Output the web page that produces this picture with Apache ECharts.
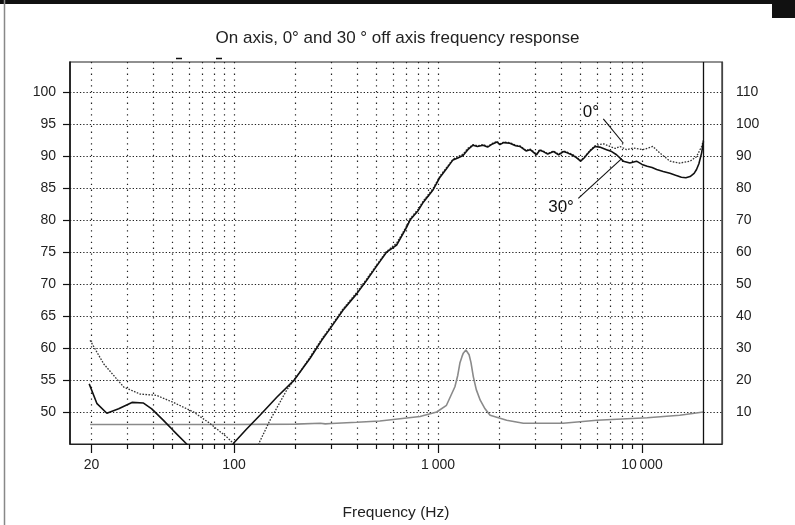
<!DOCTYPE html>
<html>
<head>
<meta charset="utf-8">
<script src="https://cdn.jsdelivr.net/npm/echarts@6/dist/echarts.min.js"></script>
<style>
html,body{margin:0;padding:0;background:#fff;}
#c{width:795px;height:525px;}
</style>
</head>
<body>
<div id="c"></div>
<script>
// ---- data ----
const titleText = 'On axis, 0\u00b0 and 30 \u00b0 off axis frequency response';
const xName = 'Frequency (Hz)';
const xMajorFreqs = [20, 100, 1000, 10000];
const xMajorLabels = ['20', '100', '1\u2009000', '10\u2009000'];
const xMinorFreqs = [30,40,50,60,70,80,90,200,300,400,500,600,700,800,900,2000,3000,4000,5000,6000,7000,8000,9000];
const leftTicks = [50,55,60,65,70,75,80,85,90,95,100];
const rightTicks = [10,20,30,40,50,60,70,80,90,100,110];
const markerFreq = 20000;

// 30 deg off axis (solid)
const f30 = [19.5,21.3,23.8,27.2,31.6,36,39.5,45.1,50.4,58.6,75,100,115,134,162,196,236,269,300,342,400,447,500,560,627,700,729,800,847,945,1023,1100,1184,1250,1326,1400,1484,1560,1662,1750,1850,1946,2010,2100,2250,2400,2520,2700,2830,3040,3150,3280,3450,3680,3900,4120,4300,4520,4750,5000,5200,5360,5600,5890,6200,6700,7100,7500,8100,8720,9400,10000,10600,11200,11800,12700,13700,14600,15600,16400,17200,18000,18500,19000,19600,20000];
const db30 = [54.4,51.3,49.8,50.5,51.5,51.4,50.5,48.7,47.1,45.0,38,45.2,47.3,49.5,52.3,54.9,58.4,61.2,63.3,65.9,68.5,70.6,72.8,75.0,76.1,78.8,80.0,81.5,82.8,84.7,86.7,88.0,89.4,89.7,90.1,91.0,91.7,91.5,91.7,91.4,91.9,92.2,91.8,92.1,92.0,91.6,91.5,90.8,91.0,90.2,90.9,90.7,90.3,90.7,90.2,90.7,90.5,90.2,89.8,89.2,89.7,90.2,90.9,91.5,91.4,91.0,90.7,90.2,89.2,88.9,89.2,88.7,88.4,88.2,87.9,87.6,87.3,87.0,86.7,86.6,86.8,87.3,87.9,88.8,90.5,92.3];

// 0 deg on axis (dotted)
const f0 = [19.7,23,28.8,34.7,41.7,50.4,63.4,76.3,92.1,100,112,132,150,181,211,236,269,300,342,400,447,500,560,627,700,729,800,847,945,1023,1100,1184,1250,1326,1400,1484,1560,1662,1750,1850,1946,2010,2100,2250,2400,2520,2700,2830,3040,3150,3280,3450,3680,3900,4120,4300,4520,4750,5000,5200,5360,5600,5890,6200,6500,6960,7400,7800,8400,9050,10100,11300,12200,13700,15300,17200,18500,19600,20000];
const db0 = [61.2,57.5,53.9,52.8,52.6,51.5,50.0,48.2,46.1,45.0,40,45.0,48.7,53.4,56.3,58.6,61.4,63.5,66.1,68.7,70.8,73.0,75.1,76.4,79.0,80.2,81.7,83.0,84.9,86.9,88.2,89.5,89.9,90.3,91.2,91.8,91.6,91.8,91.5,92.0,92.3,91.9,92.2,92.1,91.7,91.6,90.9,91.1,90.3,91.0,90.8,90.4,90.8,90.3,90.8,90.6,90.3,89.9,89.3,89.8,90.3,91.0,91.6,91.8,91.9,91.5,91.2,91.5,91.0,91.25,91.0,91.5,90.5,89.2,88.9,89.2,89.9,91.5,92.5];

// grey curve (right axis)
const fGrey = [19.7,50,100,200,265,280,300,400,519,651,816,985,1100,1210,1250,1280,1310,1330,1350,1370,1390,1420,1450,1490,1540,1610,1700,1800,2170,2620,4100,6000,10600,15300,20000];
const vGrey = [6.1,6.1,6.1,6.2,6.5,6.3,6.4,6.8,7.2,7.9,8.6,10.0,12.1,17.9,21.5,25.3,27.3,28.4,29.0,29.4,29.0,27.9,25.5,21.0,17.0,13.7,11.0,9.0,7.4,6.5,6.5,7.4,8.2,9.0,10.0];

// annotation anchors (data coords: [Hz, dB])
const label0 = {text:'0\u00b0', at:[5620, 96.9], line:[[6460, 95.8],[8100, 92.0]]};
const label30 = {text:'30\u00b0', at:[4010, 82.0], line:[[4870, 83.4],[7950, 89.6]]};

// ---- chart ----
const L = v => Math.log10(v);
const toXY = (fs, vs) => fs.map((f, i) => [L(f), vs[i]]);
const font = '"Liberation Sans", Arial, Helvetica, sans-serif';
const xMin = 1.196, xMax = 4.392;

const chart = echarts.init(document.getElementById('c'), null, {renderer: 'canvas'});
const option = {
  animation: false,
  backgroundColor: '#fff',
  textStyle: {fontFamily: font},
  title: {
    text: titleText, left: 'center', top: 25,
    textStyle: {fontFamily: font, fontSize: 17, fontWeight: 'normal', color: '#222'}
  },
  grid: {left: 70, right: 73, top: 62, bottom: 81, show: true, borderColor: '#222', borderWidth: 1.2,
         containLabel: false, outerBoundsMode: 'none'},
  xAxis: [
    {
      type: 'value', min: xMin, max: xMax, position: 'bottom',
      name: xName, nameLocation: 'middle', nameGap: 61,
      nameTextStyle: {fontFamily: font, fontSize: 15.5, color: '#222'},
      axisLine: {show: true, onZero: false, lineStyle: {color: '#222', width: 1.2}},
      axisTick: {show: true, length: 9, customValues: xMajorFreqs.map(L), lineStyle: {color: '#111', width: 1.2}},
      axisLabel: {
        show: true, margin: 14, customValues: xMajorFreqs.map(L),
        fontFamily: font, fontSize: 14, color: '#222',
        formatter: v => {
          let best = 0;
          xMajorFreqs.forEach((f, i) => { if (Math.abs(L(f) - v) < Math.abs(L(xMajorFreqs[best]) - v)) best = i; });
          return xMajorLabels[best];
        }
      },
      splitLine: {show: true, lineStyle: {color: '#222', width: 1.2, type: [1.3, 4.5]}}
    },
    {
      type: 'value', min: xMin, max: xMax, position: 'bottom',
      axisLine: {show: false, onZero: false},
      axisTick: {show: true, length: 5, customValues: xMinorFreqs.map(L), lineStyle: {color: '#111', width: 1.2}},
      axisLabel: {show: false},
      splitLine: {show: true, lineStyle: {color: '#222', width: 1.2, type: [1.3, 4.5]}}
    }
  ],
  yAxis: [
    {
      type: 'value', min: 45, max: 104.7, position: 'left',
      axisLine: {show: true, lineStyle: {color: '#111', width: 1.5}},
      axisTick: {show: true, length: 7, customValues: leftTicks, lineStyle: {color: '#111', width: 1.2}},
      axisLabel: {customValues: leftTicks, margin: 14, fontFamily: font, fontSize: 14, color: '#222'},
      splitLine: {show: true, lineStyle: {color: '#222', width: 1.2, type: [1.3, 2]}}
    },
    {
      type: 'value', min: 0, max: 119.4, position: 'right',
      axisLine: {show: true, lineStyle: {color: '#444', width: 1.2}},
      axisTick: {show: false, customValues: rightTicks},
      axisLabel: {customValues: rightTicks, margin: 14, fontFamily: font, fontSize: 14, color: '#222'},
      splitLine: {show: false}
    }
  ],
  series: [
    {
      name: 'grey', type: 'line', xAxisIndex: 0, yAxisIndex: 1, showSymbol: false, symbol: 'none',
      data: toXY(fGrey, vGrey), clip: true,
      lineStyle: {color: '#8a8a8a', width: 1.6},
      markLine: {
        silent: true, symbol: ['none', 'none'], label: {show: false},
        lineStyle: {type: 'solid', color: '#111', width: 1.3},
        data: [{xAxis: L(markerFreq)}]
      }
    },
    {
      name: '0deg', type: 'line', xAxisIndex: 0, yAxisIndex: 0, showSymbol: false, symbol: 'none',
      data: toXY(f0, db0), clip: true,
      lineStyle: {color: '#333', width: 1.3, type: [1.6, 1.4]},
      markLine: {
        silent: true, symbol: ['none', 'none'], label: {show: false},
        lineStyle: {type: 'solid', color: '#111', width: 1.1},
        data: [[{coord: [L(label0.line[0][0]), label0.line[0][1]]}, {coord: [L(label0.line[1][0]), label0.line[1][1]]}]]
      },
      markPoint: {
        silent: true, symbol: 'circle', symbolSize: 0,
        label: {show: true, position: 'inside', formatter: label0.text, fontFamily: font, fontSize: 17, color: '#111'},
        data: [{coord: [L(label0.at[0]), label0.at[1]]}]
      }
    },
    {
      name: '30deg', type: 'line', xAxisIndex: 0, yAxisIndex: 0, showSymbol: false, symbol: 'none',
      data: toXY(f30, db30), clip: true,
      lineStyle: {color: '#111', width: 1.6},
      markLine: {
        silent: true, symbol: ['none', 'none'], label: {show: false},
        lineStyle: {type: 'solid', color: '#111', width: 1.1},
        data: [[{coord: [L(label30.line[0][0]), label30.line[0][1]]}, {coord: [L(label30.line[1][0]), label30.line[1][1]]}]]
      },
      markPoint: {
        silent: true, symbol: 'circle', symbolSize: 0,
        label: {show: true, position: 'inside', formatter: label30.text, fontFamily: font, fontSize: 17, color: '#111'},
        data: [{coord: [L(label30.at[0]), label30.at[1]]}]
      }
    }
  ],
  graphic: [
    {type: 'rect', left: 0, top: 0, shape: {width: 772, height: 4}, style: {fill: '#111'}, silent: true},
    {type: 'rect', left: 772, top: 0, shape: {width: 23, height: 18}, style: {fill: '#111'}, silent: true},
    {type: 'line', shape: {x1: 4.5, y1: 0, x2: 4.5, y2: 525}, style: {stroke: '#888', lineWidth: 1.5}, silent: true},
    {type: 'line', shape: {x1: 176, y1: 58.5, x2: 182, y2: 58.5}, style: {stroke: '#111', lineWidth: 1.5}, silent: true},
    {type: 'line', shape: {x1: 216, y1: 58.5, x2: 222, y2: 58.5}, style: {stroke: '#111', lineWidth: 1.5}, silent: true}
  ]
};
chart.setOption(option);
</script>
</body>
</html>
